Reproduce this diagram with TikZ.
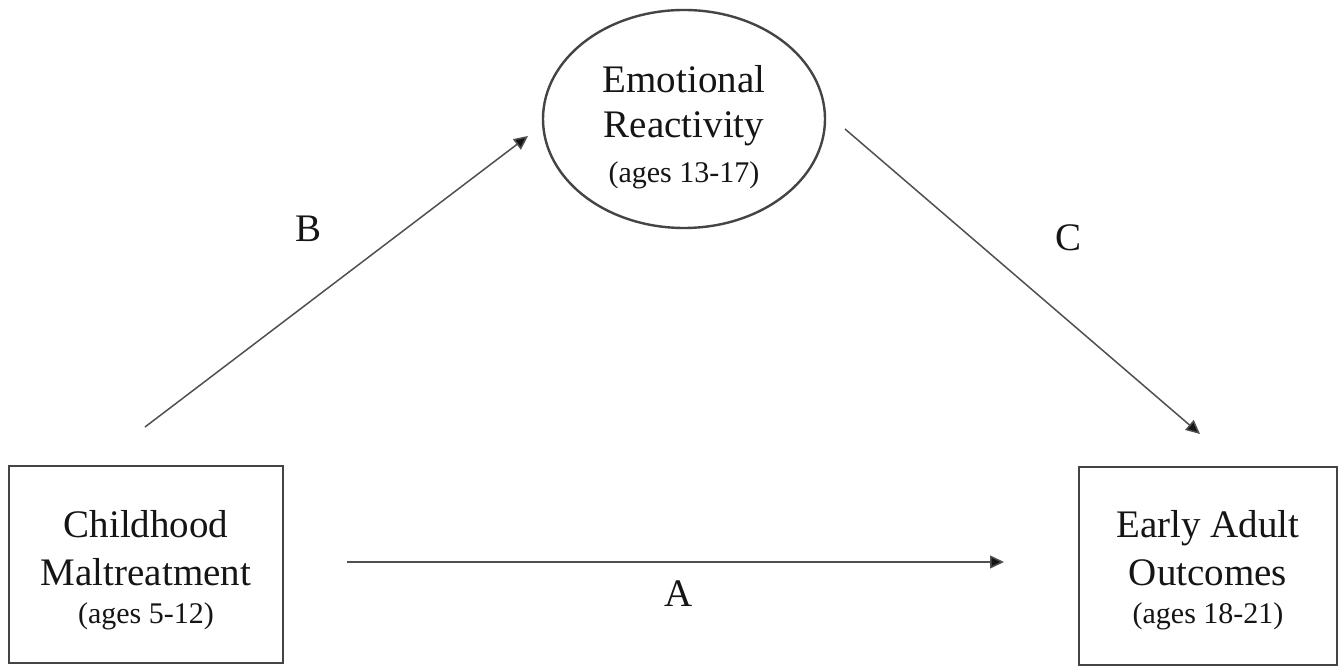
\documentclass[tikz,border=0pt]{standalone}
\usepackage{fontspec}
\setmainfont{Liberation Serif}
\usetikzlibrary{shapes.geometric,arrows.meta}
\definecolor{edge}{HTML}{444444}
\definecolor{arr}{HTML}{505050}
\definecolor{ink}{HTML}{151515}
\tikzset{
  mainfont/.style={font=\fontsize{19.5}{24}\selectfont, text=ink},
  boxnode/.style={draw=edge, line width=1.2pt, rectangle, inner sep=0pt, align=center, mainfont},
  ellnode/.style={draw=edge, line width=1.2pt, ellipse, inner sep=0pt, align=center, mainfont,
    minimum width=141pt, minimum height=109pt},
  pathlbl/.style={mainfont, inner sep=0pt},
  arrowline/.style={draw=arr, line width=0.75pt, -{Triangle[length=7pt,width=6.5pt,fill=ink]}}
}
\newcommand{\agesfont}{\fontsize{15}{19}\selectfont}
\begin{document}
\begin{tikzpicture}[x=0.5pt,y=-0.5pt]
\useasboundingbox (0,0) rectangle (1344,667);
\fill[white] (0,0) rectangle (1344,667);
\node[boxnode, minimum width=137pt, minimum height=98.5pt] (cm) at (146,564.5)
  {\rule{0pt}{18.8pt}Childhood\\Maltreatment\\[-5pt]{\agesfont (ages 5-12)}};
\node[boxnode, minimum width=129pt, minimum height=99pt] (eao) at (1208,566)
  {\rule{0pt}{17.3pt}Early Adult\\Outcomes\\[-5pt]{\agesfont (ages 18-21)}};
\node[ellnode] (er) at (684,119)
  {\rule{0pt}{21.3pt}Emotional\\[-1.5pt]Reactivity\\[-1.5pt]{\agesfont (ages 13-17)}};
\coordinate (bS) at (145,427);
\coordinate (bE) at (528,136);
\coordinate (cS) at (845,129);
\coordinate (cE) at (1200,434);
\coordinate (aS) at (347,562);
\coordinate (aE) at (1004,562);
\draw[arrowline] (bS) -- (bE);
\draw[arrowline] (cS) -- (cE);
\draw[arrowline] (aS) -- (aE);
\node[pathlbl] (lB) at (309,229) {B};
\node[pathlbl] (lC) at (1068,238) {C};
\node[pathlbl] (lA) at (679,594) {A};
\end{tikzpicture}
\end{document}
